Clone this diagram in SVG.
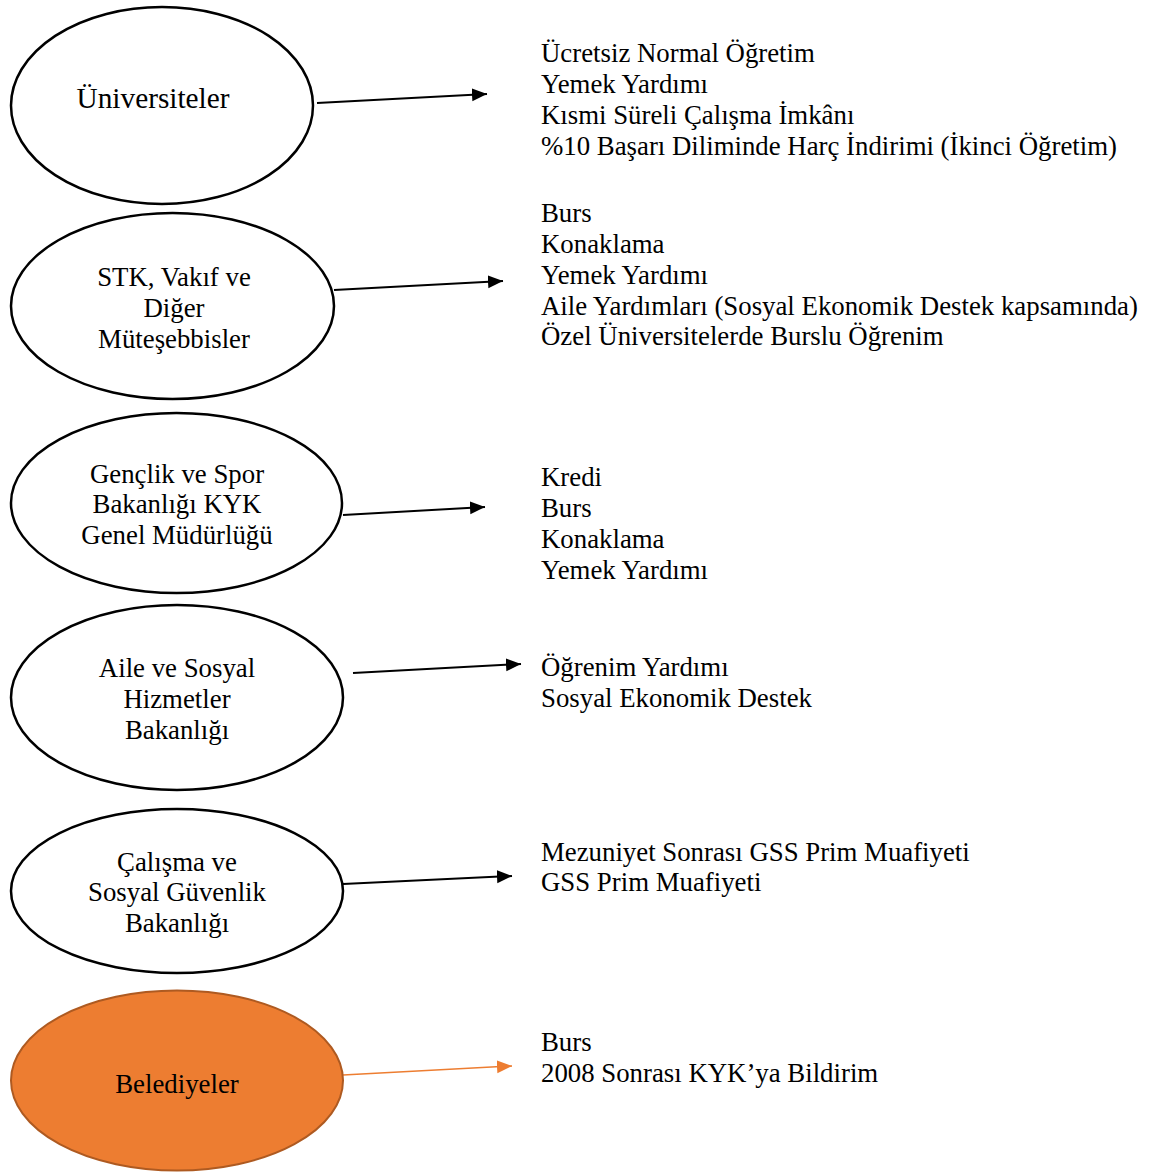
<svg xmlns="http://www.w3.org/2000/svg" width="1151" height="1173" viewBox="0 0 1151 1173">
<style>
.node{fill:#ffffff;stroke:#000000;stroke-width:2.5}
.orange{fill:#ED7D31;stroke:#AE5A21;stroke-width:2}
text{font-family:"Liberation Serif","Times New Roman",serif;font-size:26.8px;fill:#000000}
.lbl{text-anchor:middle}
.big{font-size:29.3px}
.conn{stroke:#000000;stroke-width:2;fill:none}
.connO{stroke:#ED7D31;stroke-width:1.5;fill:none}
</style>
<defs>
<marker id="ah" markerUnits="userSpaceOnUse" markerWidth="16" markerHeight="14" refX="15" refY="6.5" orient="auto">
<path d="M0,0 L15,6.5 L0,13 z" fill="#000000"/>
</marker>
<marker id="ahO" markerUnits="userSpaceOnUse" markerWidth="16" markerHeight="14" refX="15" refY="6.5" orient="auto">
<path d="M0,0 L15,6.5 L0,13 z" fill="#ED7D31"/>
</marker>
</defs>
<rect x="0" y="0" width="1151" height="1173" fill="#ffffff"/>

<g id="connectors">
<line class="conn" x1="317" y1="103" x2="487" y2="94" marker-end="url(#ah)"/>
<line class="conn" x1="334" y1="290" x2="503" y2="281" marker-end="url(#ah)"/>
<line class="conn" x1="343" y1="515" x2="485" y2="507" marker-end="url(#ah)"/>
<line class="conn" x1="353" y1="673" x2="521" y2="664" marker-end="url(#ah)"/>
<line class="conn" x1="343" y1="884" x2="512" y2="876" marker-end="url(#ah)"/>
<line class="connO" x1="343" y1="1075" x2="512" y2="1066" marker-end="url(#ahO)"/>
</g>

<g id="node-universiteler">
<ellipse class="node" cx="162" cy="105.5" rx="151" ry="98.5"/>
<text class="lbl big" x="153" y="108">Üniversiteler</text>
</g>
<g id="node-stk">
<ellipse class="node" cx="172.5" cy="306" rx="161.5" ry="93"/>
<text class="lbl" x="174" y="286">STK, Vakıf ve</text>
<text class="lbl" x="174" y="317">Diğer</text>
<text class="lbl" x="174" y="348">Müteşebbisler</text>
</g>
<g id="node-kyk">
<ellipse class="node" cx="176.5" cy="503" rx="165.5" ry="90"/>
<text class="lbl" x="177" y="483">Gençlik ve Spor</text>
<text class="lbl" x="177" y="513">Bakanlığı KYK</text>
<text class="lbl" x="177" y="544">Genel Müdürlüğü</text>
</g>
<g id="node-aile">
<ellipse class="node" cx="177" cy="697.5" rx="166" ry="92.5"/>
<text class="lbl" x="177" y="677">Aile ve Sosyal</text>
<text class="lbl" x="177" y="708">Hizmetler</text>
<text class="lbl" x="177" y="739">Bakanlığı</text>
</g>
<g id="node-calisma">
<ellipse class="node" cx="177" cy="891" rx="166" ry="82"/>
<text class="lbl" x="177" y="871">Çalışma ve</text>
<text class="lbl" x="177" y="901">Sosyal Güvenlik</text>
<text class="lbl" x="177" y="932">Bakanlığı</text>
</g>
<g id="node-belediyeler">
<ellipse class="orange" cx="177" cy="1080.5" rx="166" ry="90"/>
<text class="lbl" x="177" y="1093">Belediyeler</text>
</g>

<g id="list-universiteler">
<text x="541" y="62">Ücretsiz Normal Öğretim</text>
<text x="541" y="93">Yemek Yardımı</text>
<text x="541" y="124">Kısmi Süreli Çalışma İmkânı</text>
<text x="541" y="155">%10 Başarı Diliminde Harç İndirimi (İkinci Öğretim)</text>
</g>
<g id="list-stk">
<text x="541" y="222">Burs</text>
<text x="541" y="253">Konaklama</text>
<text x="541" y="284">Yemek Yardımı</text>
<text x="541" y="315">Aile Yardımları (Sosyal Ekonomik Destek kapsamında)</text>
<text x="541" y="345">Özel Üniversitelerde Burslu Öğrenim</text>
</g>
<g id="list-kyk">
<text x="541" y="486">Kredi</text>
<text x="541" y="517">Burs</text>
<text x="541" y="548">Konaklama</text>
<text x="541" y="579">Yemek Yardımı</text>
</g>
<g id="list-aile">
<text x="541" y="676">Öğrenim Yardımı</text>
<text x="541" y="707">Sosyal Ekonomik Destek</text>
</g>
<g id="list-calisma">
<text x="541" y="861">Mezuniyet Sonrası GSS Prim Muafiyeti</text>
<text x="541" y="891">GSS Prim Muafiyeti</text>
</g>
<g id="list-belediyeler">
<text x="541" y="1051">Burs</text>
<text x="541" y="1082">2008 Sonrası KYK’ya Bildirim</text>
</g>
</svg>
